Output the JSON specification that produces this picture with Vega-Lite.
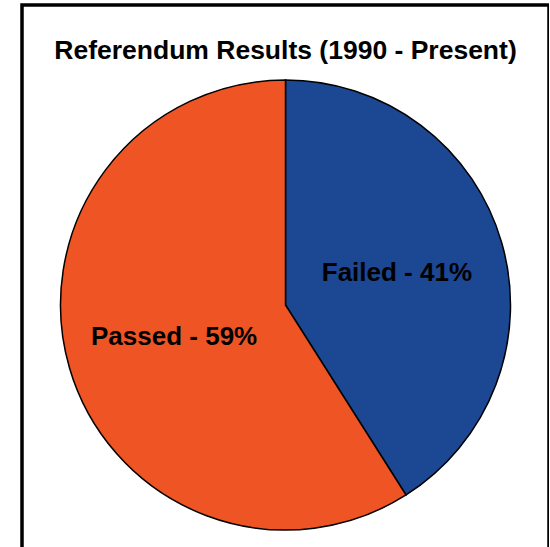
{
  "$schema": "https://vega.github.io/schema/vega-lite/v6.json",
  "autosize": {"type": "none"},
  "padding": {"left": 22, "top": 5, "right": 0, "bottom": 0},
  "width": 527,
  "height": 600,
  "background": "white",
  "view": {"stroke": "black", "strokeWidth": 3.5},
  "title": {
    "text": "Referendum Results (1990 - Present)",
    "font": "Liberation Sans",
    "fontSize": 26.5,
    "fontWeight": "bold",
    "color": "black",
    "anchor": "middle",
    "baseline": "alphabetic",
    "offset": 0,
    "dy": 80
  },
  "data": {
    "values": [
      {"result": "Failed", "pct": 41, "label": "Failed - 41%"},
      {"result": "Passed", "pct": 59, "label": "Passed - 59%"}
    ]
  },
  "encoding": {
    "theta": {"field": "pct", "type": "quantitative", "stack": true},
    "order": {"field": "result", "sort": "ascending"}
  },
  "layer": [
    {
      "mark": {"type": "arc", "outerRadius": 225, "stroke": "black", "strokeWidth": 1.5},
      "encoding": {
        "color": {
          "field": "result",
          "type": "nominal",
          "scale": {"domain": ["Failed", "Passed"], "range": ["#1B4793", "#EF5424"]},
          "legend": null
        }
      }
    },
    {
      "mark": {"type": "text", "radius": 116, "font": "Liberation Sans", "fontSize": 26, "fontWeight": "bold", "color": "black"},
      "encoding": {
        "text": {"field": "label", "type": "nominal"}
      }
    }
  ]
}
